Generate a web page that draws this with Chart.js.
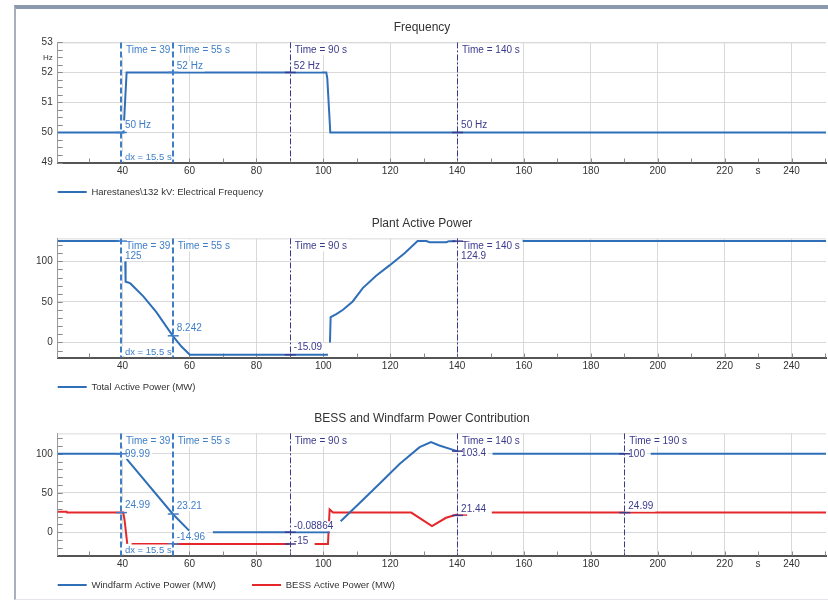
<!DOCTYPE html>
<html>
<head>
<meta charset="utf-8">
<script src="https://cdn.jsdelivr.net/npm/chart.js@4.4.0/dist/chart.umd.min.js"></script>
<style>
  html, body { margin: 0; padding: 0; background: #fff; width: 828px; height: 600px; overflow: hidden; }
  #frame { position: absolute; left: 14px; top: 5px; width: 814px; height: 595px; box-sizing: border-box;
           border-top: 4px solid #8a9aac; border-left: 2px solid #a6b1bc; border-bottom: 1px solid #e3e7eb; }
  canvas { position: absolute; left: 16px; }
</style>
</head>
<body>
<div id="frame"></div>
<canvas id="chart-frequency" width="812" height="226" style="top:12px"></canvas>
<canvas id="chart-plant-power" width="812" height="225" style="top:208px"></canvas>
<canvas id="chart-bess-windfarm" width="812" height="228" style="top:403px"></canvas>
<script>
// ---- values ----
const freqTime  = [20.6, 40.3, 40.5, 41.2, 100.9, 101.2, 102.1, 250.3];
const freqValue = [50, 50, 50.5, 52, 52, 51.8, 50, 50];

const plantTime  = [20.6, 39.5, 39.6, 40.8, 40.9, 41.7, 42.4, 46.2, 50.1, 55, 57.6, 60.1, 101.4, 101.6,
                    102.0, 102.2, 103.9, 105.9, 108.8, 111.8, 115.8, 119.8, 124.3, 128.2, 130.8, 131.8,
                    136.8, 137.6, 140, 140.1, 159.6, 250.3];
const plantValue = [125, 125, null, 100, 75, 74, 72.5, 56.8, 37.5, 8.242, -5, -15.09, -15.09, null,
                    0, 31.4, 35, 40.4, 50.6, 67, 82.3, 95, 110, 125, 125, 123.5,
                    123.5, 124.9, 124.9, null, 125, 125];

const windTime  = [20.6, 39.7, 39.8, 41.2, 55, 59.9, 60, 67, 101.9, 102, 105.2, 110.8, 116.8, 122.8,
                   128.8, 132.2, 134.7, 140, 140.1, 150.6, 190, 190.1, 197.9, 250.3];
const windValue = [100, 100, null, 93.5, 23.21, 2, null, -0.09, -0.09, null, 14, 37, 61.7, 87,
                   108.4, 114.8, 110.6, 103.4, null, 100, 100, null, 100, 100];

const bessTime  = [20.6, 23.3, 23.4, 40.2, 40.6, 41.4, 41.5, 42.7, 89.9, 90, 97.4, 101.4, 101.9, 102.9,
                   126.3, 132.5, 136.7, 139.7, 143, 143.1, 150.4, 250.3];
const bessValue = [26, 26, 25, 24.99, 15, -15, null, -15, -15, null, -15, -15, 29, 25,
                   25, 7.7, 18.4, 22.2, 22.2, null, 25, 25];

// cursors (s) and the read-outs shown at them
const cursorTimes     = [39.5, 55, 90, 140];
const cursorTimesBess = [39.5, 55, 90, 140, 190];
const freqAtCursor  = [50, 52, 52, 50];
const plantAtCursor = [125, 8.242, -15.09, 124.9];
const windAtCursor  = [99.99, 23.21, -0.08864, 103.4, 100];
const bessAtCursor  = [24.99, -14.96, -15, 21.44, 24.99];

// ---- styles ----
const FONT = "'Liberation Sans', Arial, sans-serif";
const BLUE = '#2f6fb7';
const RED = '#e5272b';
const CURSOR_LIGHT = '#3f7ec6';
const CURSOR_DARK = '#3b3b8e';
const GRID = '#d9d9d9';
const TEXT = '#333';
const LEGEND_GAP = 36;      // space between legend entries
const LEGEND_DROP = 29.5;   // plot bottom -> legend row centre

// text offsets of the read-outs (px, from the value's position)
const cursorSetup = {
  'chart-frequency': {
    times: cursorTimes, xMinor: 10, yMinor: 0.25,
    readouts: [{ values: freqAtCursor, unit: ' Hz', shift: [-7, -6, -6, -7] }]
  },
  'chart-plant-power': {
    times: cursorTimes, xMinor: 10, yMinor: 10,
    readouts: [{ values: plantAtCursor, unit: '', shift: [15, -8, -7, 15] }]
  },
  'chart-bess-windfarm': {
    times: cursorTimesBess, xMinor: 10, yMinor: 10,
    readouts: [
      { values: windAtCursor, unit: '', shift: [0, -8, -6, 2, 0] },
      { values: bessAtCursor, unit: '', shift: [-7, -7, -3, -6, -6] }
    ]
  }
};

const points = (times, values) => times.map((t, i) => ({ x: t, y: values[i] }));
const colorOf = (i) => (i < 2 ? CURSOR_LIGHT : CURSOR_DARK);

const cursorPlugin = {
  id: 'cursors',
  beforeDraw(chart) {
    // legend row sits right under the axis, starting at the plot's left edge
    const lg = chart.legend;
    const a = chart.chartArea;
    lg.left = a.left - LEGEND_GAP;
    lg.top = a.bottom + LEGEND_DROP - 4.75 - LEGEND_GAP;
  },
  beforeDatasetsDraw(chart) {
    const cfg = cursorSetup[chart.canvas.id];
    const { ctx, chartArea: a, scales: { x, y } } = chart;
    ctx.save();
    ctx.lineWidth = 1;
    ctx.strokeStyle = GRID;
    ctx.beginPath();
    ctx.moveTo(a.left, a.top + 0.5);
    ctx.lineTo(a.right, a.top + 0.5);
    ctx.stroke();
    // minor ticks inside the axes
    ctx.strokeStyle = '#8a8a8a';
    ctx.beginPath();
    for (let t = Math.ceil(x.min / cfg.xMinor) * cfg.xMinor; t <= x.max; t += cfg.xMinor) {
      const px = Math.round(x.getPixelForValue(t)) + 0.5;
      ctx.moveTo(px, a.bottom);
      ctx.lineTo(px, a.bottom - 4);
    }
    for (let v = Math.ceil(y.min / cfg.yMinor) * cfg.yMinor; v <= y.max + 1e-9; v += cfg.yMinor) {
      const py = Math.round(y.getPixelForValue(v)) + 0.5;
      ctx.moveTo(a.left, py);
      ctx.lineTo(a.left + 5, py);
    }
    ctx.stroke();
    ctx.restore();
  },
  afterDatasetsDraw(chart) {
    const cfg = cursorSetup[chart.canvas.id];
    const { ctx, chartArea: a, scales: { x, y } } = chart;
    ctx.save();
    ctx.textAlign = 'left';
    ctx.textBaseline = 'middle';
    ctx.font = '10px ' + FONT;

    // time labels at the top
    cfg.times.forEach((t, i) => {
      const px = x.getPixelForValue(t);
      const text = 'Time = ' + t + ' s';
      const w = ctx.measureText(text).width;
      ctx.fillStyle = '#fff';
      ctx.fillRect(px - 1.5, a.top + 1, w + 8, 12);
      ctx.fillStyle = colorOf(i);
      ctx.fillText(text, px + 5, a.top + 8);
    });

    // value read-outs
    cfg.readouts.forEach((r) => {
      r.values.forEach((v, i) => {
        const px = x.getPixelForValue(cfg.times[i]);
        const py = y.getPixelForValue(v);
        const ty = py + r.shift[i];
        const text = v + r.unit;
        const w = ctx.measureText(text).width;
        ctx.fillStyle = '#fff';
        ctx.fillRect(px + 1, ty - 5, w + 5, 10);
        ctx.strokeStyle = colorOf(i);
        ctx.lineWidth = 1.5;
        ctx.beginPath();
        ctx.moveTo(px - 5, py);
        ctx.lineTo(px + 6, py);
        ctx.stroke();
        ctx.fillStyle = colorOf(i);
        ctx.fillText(text, px + 4, ty);
      });
    });

    // dx between the first two cursors
    const p0 = x.getPixelForValue(cfg.times[0]);
    const p1 = x.getPixelForValue(cfg.times[1]);
    ctx.font = '9.5px ' + FONT;
    ctx.fillStyle = '#fff';
    ctx.fillRect(p0 + 1, a.bottom - 11, p1 - p0 - 2, 10);
    ctx.fillStyle = CURSOR_LIGHT;
    ctx.fillText('dx = ' + (cfg.times[1] - cfg.times[0]) + ' s', p0 + 4, a.bottom - 5.5);

    // cursor lines
    cfg.times.forEach((t, i) => {
      const px = x.getPixelForValue(t);
      ctx.strokeStyle = colorOf(i);
      if (i < 2) {
        ctx.lineWidth = 2;
        ctx.setLineDash([6, 3]);
      } else {
        ctx.lineWidth = 1;
        ctx.setLineDash([6, 2, 2, 2]);
      }
      const lx = i < 2 ? Math.round(px) : Math.round(px) + 0.5;
      ctx.beginPath();
      ctx.moveTo(lx, a.top);
      ctx.lineTo(lx, a.bottom);
      ctx.stroke();
    });
    ctx.restore();
  }
};
Chart.register(cursorPlugin);

function makePlot(id, title, datasets, yScale) {
  return new Chart(document.getElementById(id), {
    type: 'line',
    data: { datasets: datasets },
    options: {
      responsive: false,
      animation: false,
      events: [],
      layout: { padding: 0 },
      elements: { point: { radius: 0 }, line: { tension: 0 } },
      scales: {
        x: {
          type: 'linear',
          min: 20.6,
          max: 250.3,
          grid: {
            drawTicks: false,
            color: (ctx) => (ctx.tick && ctx.tick.value % 20 === 0 ? GRID : 'rgba(0,0,0,0)')
          },
          border: { color: '#555', width: 2 },
          ticks: {
            stepSize: 10,
            includeBounds: false,
            autoSkip: false,
            maxRotation: 0,
            padding: 3,
            color: TEXT,
            font: { family: FONT, size: 10 },
            callback: (v) => (v === 230 ? 's' : (v % 20 === 0 ? v : ''))
          },
          afterFit: (scale) => { scale.height = 20; }
        },
        y: Object.assign({
          grid: { drawTicks: false, color: GRID },
          border: { color: '#999', width: 1 },
          afterFit: (scale) => { scale.width = 41.7; }
        }, yScale)
      },
      plugins: {
        title: {
          display: true,
          text: title,
          color: TEXT,
          font: { family: FONT, size: 12, weight: 'normal' },
          padding: { top: 8, bottom: 8 }
        },
        legend: {
          position: 'bottom',
          align: 'start',
          fullSize: false,
          labels: {
            boxWidth: 29,
            boxHeight: 2,
            padding: LEGEND_GAP,
            color: TEXT,
            font: { family: FONT, size: 9.5 },
            generateLabels: (chart) => Chart.defaults.plugins.legend.labels.generateLabels(chart)
              .map((l) => Object.assign(l, { lineWidth: 0 }))
          }
        },
        tooltip: { enabled: false }
      }
    }
  });
}

var chartFrequency = makePlot('chart-frequency', 'Frequency', [{
  label: 'Harestanes\\132 kV: Electrical Frequency',
  data: points(freqTime, freqValue),
  borderColor: BLUE,
  backgroundColor: BLUE,
  borderWidth: 2
}], {
  min: 49,
  max: 53,
  grid: {
    drawTicks: false,
    color: (ctx) => (ctx.tick && Number.isInteger(ctx.tick.value) ? GRID : 'rgba(0,0,0,0)')
  },
  ticks: {
    stepSize: 0.5,
    padding: 5,
    color: TEXT,
    font: (ctx) => (ctx.tick && ctx.tick.value === 52.5
      ? { family: FONT, size: 8 } : { family: FONT, size: 10 }),
    callback: (v) => (Number.isInteger(v) ? v : (v === 52.5 ? 'Hz' : ''))
  }
}); /* <-- End 'chartFrequency' */

var chartPlantPower = makePlot('chart-plant-power', 'Plant Active Power', [{
  label: 'Total Active Power (MW)',
  data: points(plantTime, plantValue),
  borderColor: BLUE,
  backgroundColor: BLUE,
  borderWidth: 2
}], {
  min: -18.5,
  max: 128.3,
  ticks: { stepSize: 50, includeBounds: false, padding: 5, color: TEXT, font: { family: FONT, size: 10 } }
}); /* <-- End 'chartPlantPower' */

var chartBessWindfarm = makePlot('chart-bess-windfarm', 'BESS and Windfarm Power Contribution', [{
  label: 'Windfarm Active Power (MW)',
  data: points(windTime, windValue),
  borderColor: BLUE,
  backgroundColor: BLUE,
  borderWidth: 2
}, {
  label: 'BESS Active Power (MW)',
  data: points(bessTime, bessValue),
  borderColor: RED,
  backgroundColor: RED,
  borderWidth: 2
}], {
  min: -29.7,
  max: 126,
  ticks: { stepSize: 50, includeBounds: false, padding: 5, color: TEXT, font: { family: FONT, size: 10 } }
}); /* <-- End 'chartBessWindfarm' */
</script>
</body>
</html>
